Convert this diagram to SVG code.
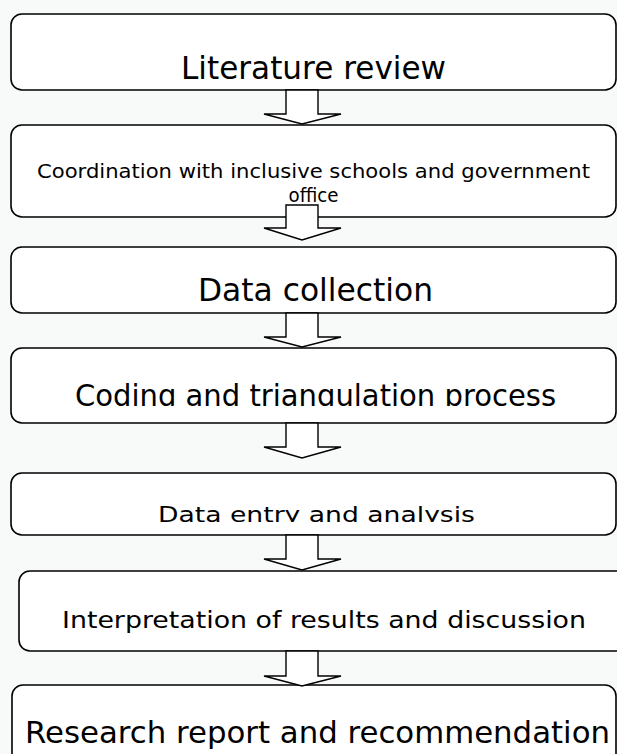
<svg xmlns="http://www.w3.org/2000/svg" width="617" height="754" viewBox="0 0 617 754">
<style>
.box{fill:#ffffff;stroke:#000000;stroke-width:1.6}
.arr{fill:#ffffff;stroke:#000000;stroke-width:1.4;stroke-linejoin:miter}
text{font-family:"DejaVu Sans","Liberation Sans",sans-serif;fill:#000000;text-anchor:middle}
</style>
<defs>
<clipPath id="c4"><rect x="0" y="348" width="617" height="58"/></clipPath>
<clipPath id="c5"><rect x="0" y="473" width="617" height="49"/></clipPath>
</defs>
<rect x="0" y="0" width="617" height="754" fill="#f8f9f9"/>
<g id="n1"><rect class="box" x="11" y="14" width="605" height="76" rx="11"/><text x="313.5" y="79" font-size="32" textLength="265" lengthAdjust="spacingAndGlyphs">Literature review</text></g>
<g id="n2"><rect class="box" x="11" y="125" width="605" height="92" rx="11"/><text x="313.5" y="178" font-size="19.5" textLength="553" lengthAdjust="spacingAndGlyphs">Coordination with inclusive schools and government</text><text x="313.5" y="202" font-size="19.5" textLength="50" lengthAdjust="spacingAndGlyphs">office</text></g>
<g id="n3"><rect class="box" x="11" y="247" width="605" height="66" rx="11"/><text x="315.5" y="301" font-size="32" textLength="235" lengthAdjust="spacingAndGlyphs">Data collection</text></g>
<g id="n4"><rect class="box" x="11" y="348" width="605" height="75" rx="11"/><text x="315.5" y="406" font-size="30" textLength="481" lengthAdjust="spacingAndGlyphs" clip-path="url(#c4)">Coding and triangulation process</text></g>
<g id="n5"><rect class="box" x="11" y="473" width="605" height="62" rx="11"/><text x="316.5" y="522" font-size="22" textLength="317" lengthAdjust="spacingAndGlyphs" clip-path="url(#c5)">Data entry and analysis</text></g>
<g id="n6"><rect class="box" x="19" y="571" width="610" height="80" rx="11"/><text x="324" y="628" font-size="23" textLength="524" lengthAdjust="spacingAndGlyphs">Interpretation of results and discussion</text></g>
<g id="n7"><rect class="box" x="12" y="685" width="604" height="90" rx="11"/><text x="317.5" y="743" font-size="30" textLength="585" lengthAdjust="spacingAndGlyphs">Research report and recommendation</text></g>
<g id="connectors">
<polygon class="arr" points="286,90 318,90 318,114 341,114 302,124 264,114 286,114"/>
<polygon class="arr" points="286,205 318,205 318,228 341,228 302,240 264,228 286,228"/>
<polygon class="arr" points="286,313 318,313 318,337 341,337 302,347 264,337 286,337"/>
<polygon class="arr" points="286,423 318,423 318,447 341,447 302,458 264,447 286,447"/>
<polygon class="arr" points="286,535 318,535 318,559 341,559 302,570 264,559 286,559"/>
<polygon class="arr" points="286,651 318,651 318,676 341,676 302,686 264,676 286,676"/>
</g>
</svg>
